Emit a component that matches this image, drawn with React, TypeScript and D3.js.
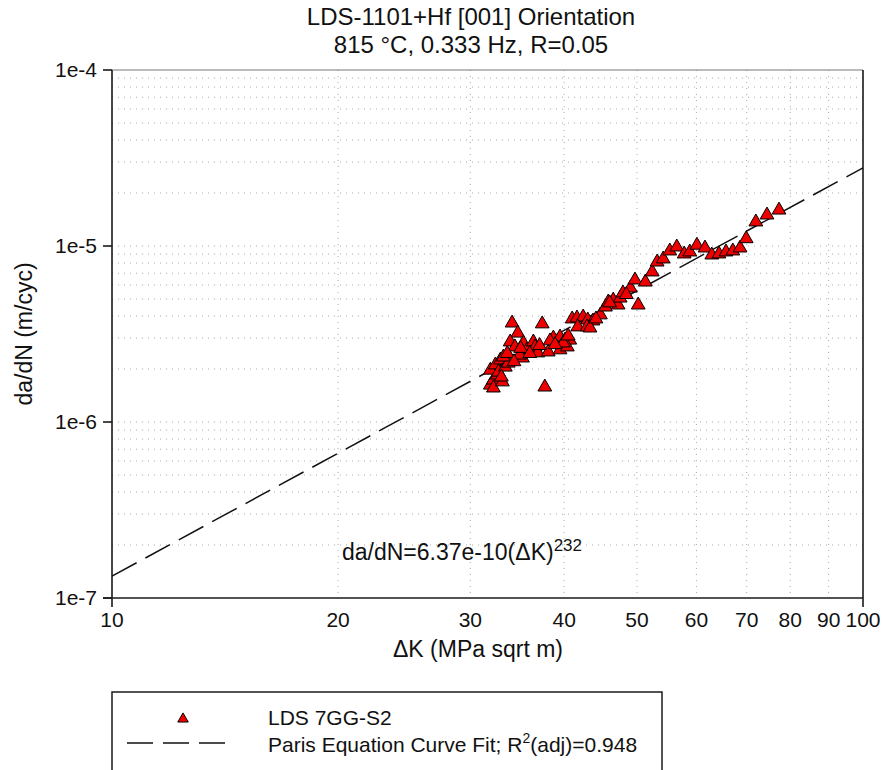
import { scaleLog, symbol, symbolTriangle, line as d3Line } from 'd3';

// crack growth data (ΔK in MPa sqrt m, da/dN in m/cyc)
const deltaK = [
  31.9, 32.2, 32.6, 31.9, 32.4, 32.9, 32.2, 33.1, 32.7, 33.4, 33.7, 33.2,
  34.1, 34.7, 33.9, 34.4, 35.3, 35.7, 36.4, 36.6, 35.2, 36.9, 37.4, 38.1,
  37.7, 34.9, 38.7, 39.5, 40.1, 40.7, 39.5, 40.4, 39.9, 38.3, 41.0, 41.6,
  42.4, 43.0, 43.7, 41.7, 42.9, 43.3, 44.7, 40.5, 45.4, 45.8, 46.5, 47.2,
  47.5, 47.9, 49.0, 49.7, 50.2, 51.3, 52.4, 53.2, 54.2, 55.3, 56.5, 57.8,
  58.8, 60.1, 61.6, 62.9, 64.3, 65.7, 67.1, 68.6, 69.9, 72.0, 74.5, 77.3,
  33.0, 33.6, 34.3, 35.0, 36.0, 37.1, 38.9, 44.1, 46.0, 48.4,
];
const dadN = [
  1.62e-6, 1.73e-6, 1.85e-6, 1.97e-6, 2.11e-6, 2.25e-6, 1.56e-6, 1.69e-6, 1.92e-6, 2.05e-6, 2.16e-6, 2.34e-6,
  3.65e-6, 3.2e-6, 2.85e-6, 2.67e-6, 2.81e-6, 2.57e-6, 2.85e-6, 2.67e-6, 2.31e-6, 2.47e-6, 3.61e-6, 2.5e-6,
  1.58e-6, 2.4e-6, 3.0e-6, 3.04e-6, 2.92e-6, 2.92e-6, 2.57e-6, 2.67e-6, 2.81e-6, 2.89e-6, 3.85e-6, 3.9e-6,
  3.95e-6, 3.8e-6, 3.75e-6, 3.47e-6, 3.47e-6, 3.42e-6, 4.06e-6, 3.08e-6, 4.5e-6, 4.81e-6, 4.93e-6, 4.62e-6,
  5.06e-6, 5.41e-6, 5.77e-6, 6.41e-6, 4.62e-6, 6.24e-6, 7.12e-6, 8.11e-6, 8.44e-6, 9.37e-6, 9.87e-6, 9.01e-6,
  9.25e-6, 1.01e-5, 9.74e-6, 8.89e-6, 9.01e-6, 9.25e-6, 9.37e-6, 9.74e-6, 1.1e-5, 1.37e-5, 1.5e-5, 1.6e-5,
  1.8e-6, 2.45e-6, 2.2e-6, 2.62e-6, 2.45e-6, 2.72e-6, 2.75e-6, 3.85e-6, 4.75e-6, 5.3e-6,
];

// Paris law fit shown on the chart: da/dN = C (ΔK)^m
const fitC = 6.37e-10;
const fitM = 2.32;
const fitK = [10, 100];

const xTickLabels = ['10', '20', '30', '40', '50', '60', '70', '80', '90', '100'];
const yMajor = [1e-7, 1e-6, 1e-5, 1e-4];
const yTickLabels = ['1e-7', '1e-6', '1e-5', '1e-4'];

const titleLines = ['LDS-1101+Hf [001] Orientation', '815 °C, 0.333 Hz, R=0.05'];
const legendSeries = 'LDS 7GG-S2';
const legendFit = 'Paris Equation Curve Fit; R';
const legendFitTail = '(adj)=0.948';

const FONT = '"Liberation Sans", Arial, Helvetica, sans-serif';

const App = () => {
  const width = 883;
  const height = 770;
  const MARGINS = { left: 112, right: 863, top: 70, bottom: 598 };

  const xScale = scaleLog().domain([10, 100]).range([MARGINS.left, MARGINS.right]);
  const yScale = scaleLog().domain([1e-7, 1e-4]).range([MARGINS.bottom, MARGINS.top]);

  const xTicks = xScale.ticks();
  const yGrid = yScale.ticks().filter((v) => v > 1.01e-7 && v < 0.99e-4);
  const xGrid = xTicks.filter((v) => v > 10.01 && v < 99.9);

  const tri = symbol().type(symbolTriangle).size(82)();
  const legendTri = symbol().type(symbolTriangle).size(48)();

  const fitLine = d3Line<number>()
    .x((k) => xScale(k))
    .y((k) => yScale(fitC * Math.pow(k, fitM)));

  const axisColor = '#1a1a1a';

  return (
    <svg
      width={width}
      height={height}
      style={{ position: 'absolute', left: 0, top: 0, background: '#fff' }}
      fontFamily={FONT}
    >
      <rect x={0} y={0} width={width} height={height} fill="#fff" />

      {/* title */}
      {titleLines.map((t, i) => (
        <text key={t} x={471} y={25 + i * 28} textAnchor="middle" fontSize={24} fill="#111">
          {t}
        </text>
      ))}

      {/* dotted grid */}
      {yGrid.map((v) => (
        <line
          key={'gy' + v}
          x1={MARGINS.left}
          x2={MARGINS.right}
          y1={yScale(v)}
          y2={yScale(v)}
          stroke="#a8a8a8"
          strokeWidth={1}
          strokeDasharray="1 5"
        />
      ))}
      {xGrid.map((v) => (
        <line
          key={'gx' + v}
          x1={xScale(v)}
          x2={xScale(v)}
          y1={MARGINS.top}
          y2={MARGINS.bottom}
          stroke="#a8a8a8"
          strokeWidth={1}
          strokeDasharray="1 5"
        />
      ))}

      {/* frame */}
      <line x1={MARGINS.left} x2={MARGINS.right} y1={MARGINS.top} y2={MARGINS.top} stroke="#777" strokeWidth={1} />
      <line x1={MARGINS.right} x2={MARGINS.right} y1={MARGINS.top} y2={MARGINS.bottom + 9} stroke={axisColor} strokeWidth={1.6} />
      <line x1={MARGINS.left} x2={MARGINS.left} y1={MARGINS.top} y2={MARGINS.bottom + 9} stroke={axisColor} strokeWidth={1.6} />
      <line x1={MARGINS.left - 9} x2={MARGINS.right} y1={MARGINS.bottom} y2={MARGINS.bottom} stroke={axisColor} strokeWidth={1.6} />

      {/* y ticks */}
      {yMajor.map((v, i) => (
        <g key={'yt' + v}>
          <line x1={MARGINS.left - 9} x2={MARGINS.left} y1={yScale(v)} y2={yScale(v)} stroke={axisColor} strokeWidth={1.6} />
          <text x={97} y={yScale(v)} dy="0.35em" textAnchor="end" fontSize={21} fill="#111">
            {yTickLabels[i]}
          </text>
        </g>
      ))}

      {/* x tick labels */}
      {xTicks.map((v, i) => (
        <text key={'xt' + v} x={xScale(v)} y={627} textAnchor="middle" fontSize={21} fill="#111">
          {xTickLabels[i]}
        </text>
      ))}

      {/* axis titles */}
      <text transform={`translate(32, ${(MARGINS.top + MARGINS.bottom) / 2}) rotate(-90)`} textAnchor="middle" fontSize={23} fill="#111">
        da/dN (m/cyc)
      </text>
      <text x={478} y={657} textAnchor="middle" fontSize={23} fill="#111">
        ΔK (MPa sqrt m)
      </text>

      {/* fit line */}
      <path d={fitLine(fitK) ?? ''} fill="none" stroke="#111" strokeWidth={1.5} strokeDasharray="28 10" />

      {/* data */}
      {deltaK.map((k, i) => (
        <path
          key={'p' + i}
          d={tri ?? ''}
          transform={`translate(${xScale(k)}, ${yScale(dadN[i])})`}
          fill="#ee0000"
          stroke="#000"
          strokeWidth={1}
        />
      ))}

      {/* equation */}
      <text x={342} y={560} fontSize={23} fill="#111">
        da/dN=6.37e-10(ΔK)
        <tspan fontSize={17} dy={-9}>
          232
        </tspan>
      </text>

      {/* legend */}
      <rect x={112} y={692} width={550} height={110} fill="none" stroke={axisColor} strokeWidth={1.5} />
      <path d={legendTri ?? ''} transform="translate(183, 719)" fill="#ee0000" stroke="#000" strokeWidth={1} />
      <text x={268} y={725} fontSize={21} fill="#111">
        {legendSeries}
      </text>
      <line x1={127} x2={228} y1={743} y2={743} stroke="#111" strokeWidth={1.5} strokeDasharray="26 10" />
      <text x={268} y={752} fontSize={21} fill="#111">
        {legendFit}
        <tspan fontSize={14} dy={-9}>
          2
        </tspan>
        <tspan dy={9}>{legendFitTail}</tspan>
      </text>
    </svg>
  );
};

export default App;
